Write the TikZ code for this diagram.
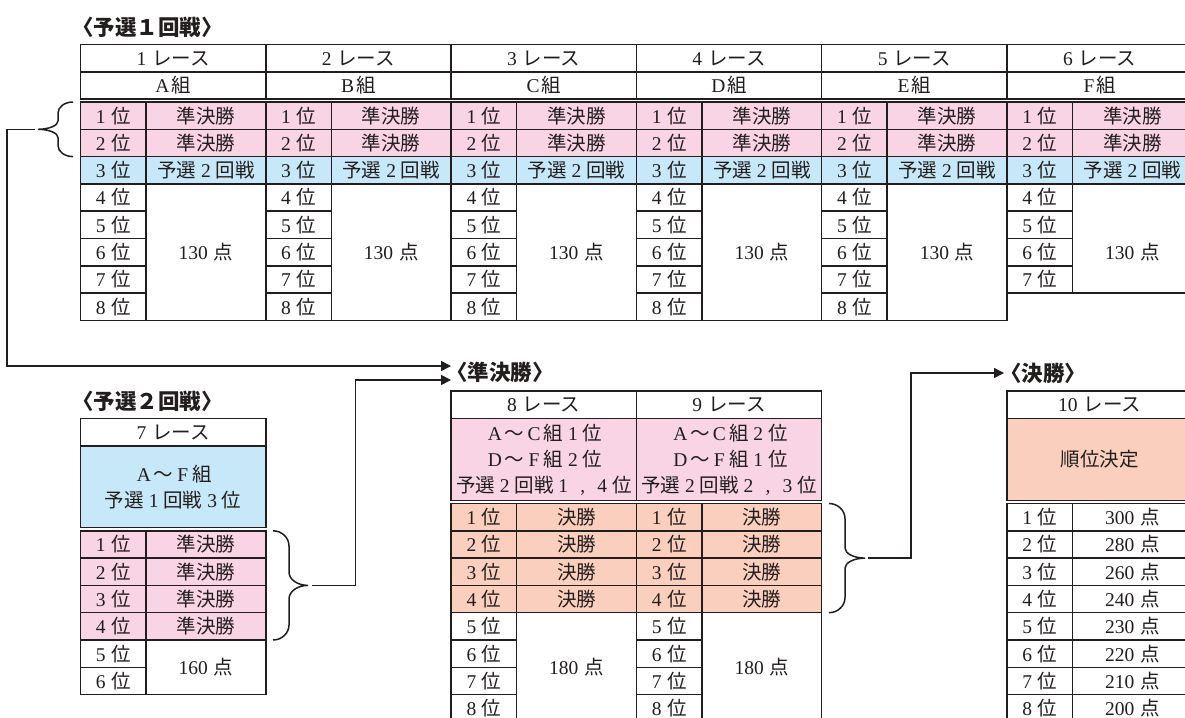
\documentclass[tikz,border=0pt]{standalone}
\usepackage{fontspec}
\setmainfont{Liberation Serif}
\newfontfamily\jp{Noto Sans CJK JP}
\usetikzlibrary{arrows.meta}
\definecolor{ink}{RGB}{35,30,30}
\definecolor{pinkc}{RGB}{249,212,228}
\definecolor{bluec}{RGB}{199,232,248}
\definecolor{salmc}{RGB}{250,207,189}
\newcommand\jtx[1]{{\jp #1}}
\newcommand\fwd[1]{\makebox[1em]{#1}}
\newcommand\rankt[1]{#1\hspace{0.28em}\jtx{位}}
\newcommand\ptst[1]{#1\hspace{0.3em}\jtx{点}}
\newcommand\racet[1]{#1\hspace{0.3em}\jtx{レース}}
\newcommand\mkcell[7]{\node[cell, fill=#6, minimum width=#4pt, minimum height=#5pt] (#1) at ({#2+#4/2},{#3+#5/2}) {#7};}
\tikzset{
  celltext/.style={inner sep=0pt, outer sep=0pt, text=ink, align=center,
    font=\fontsize{19.5}{26}\selectfont},
  cell/.style={celltext, draw=ink, line width=1.5pt},
  ttl/.style={inner sep=0pt, anchor=west, text=ink, font=\fontsize{21.5}{24}\selectfont\jp\bfseries},
  conn/.style={draw=ink, line width=1.5pt},
  arr/.style={conn, -{Triangle[length=10pt,width=10pt]}},
  brc/.style={draw=ink, line width=1.5pt},
}
\begin{document}
\begin{tikzpicture}[x=1pt,y=-1pt]
\useasboundingbox (0,0) rectangle (1185,717);
\fill[white] (0,0) rectangle (1185,717);
\begin{scope}
\clip (0,0) rectangle (1185,717);
% titles
\node[ttl] (T1) at (72,27.5) {〈予選１回戦〉};
\node[ttl] (T2) at (72,401.5) {〈予選２回戦〉};
\node[ttl] (T3) at (446,372) {〈準決勝〉};
\node[ttl] (T4) at (1000,373) {〈決勝〉};
% round 1
\foreach \k/\g in {0/A,1/B,2/C,3/D,4/E,5/F}{
  \pgfmathsetmacro\xl{80.5+185.3*\k}
  \pgfmathtruncatemacro\rn{\k+1}
  \pgfmathtruncatemacro\nr{\k<5 ? 8 : 7}
  \pgfmathsetmacro\ph{27.3*(\nr-3)}
  \mkcell{t\rn h}{\xl}{44.5}{185.3}{27.3}{white}{\racet{\rn}}
  \mkcell{t\rn g}{\xl}{71.8}{185.3}{27.3}{white}{\g\hspace{0.1em}\jtx{組}}
  \mkcell{t\rn a1}{\xl}{102}{65.5}{27.3}{pinkc}{\rankt{1}}
  \mkcell{t\rn b1}{\xl+65.5}{102}{119.8}{27.3}{pinkc}{\jtx{準決勝}}
  \mkcell{t\rn a2}{\xl}{129.3}{65.5}{27.3}{pinkc}{\rankt{2}}
  \mkcell{t\rn b2}{\xl+65.5}{129.3}{119.8}{27.3}{pinkc}{\jtx{準決勝}}
  \mkcell{t\rn a3}{\xl}{156.6}{65.5}{27.3}{bluec}{\rankt{3}}
  \mkcell{t\rn b3}{\xl+65.5}{156.6}{119.8}{27.3}{bluec}{\jtx{予選}\fwd{2}\jtx{回戦}}
  \foreach \i in {4,...,\nr}{
    \mkcell{t\rn a\i}{\xl}{102+27.3*(\i-1)}{65.5}{27.3}{white}{\rankt{\i}}
  }
  \mkcell{t\rn p}{\xl+65.5}{183.9}{119.8}{\ph}{white}{}
  \node[celltext] (t\rn pt) at (\xl+125.4,252.15) {\ptst{130}};
}
% round 2
\mkcell{q7h}{80.5}{418.5}{185.3}{27.3}{white}{\racet{7}}
\mkcell{q7d}{80.5}{445.8}{185.3}{81.9}{bluec}{\fwd{A}\jtx{〜}\fwd{F}\jtx{組}\\\jtx{予選}\fwd{1}\jtx{回戦}\fwd{3}\jtx{位}}
\foreach \i in {1,...,4}{
  \mkcell{q7a\i}{80.5}{530.8+27.3*(\i-1)}{65.5}{27.3}{pinkc}{\rankt{\i}}
  \mkcell{q7b\i}{146}{530.8+27.3*(\i-1)}{119.8}{27.3}{pinkc}{\jtx{準決勝}}
}
\mkcell{q7a5}{80.5}{640}{65.5}{27.3}{white}{\rankt{5}}
\mkcell{q7a6}{80.5}{667.3}{65.5}{27.3}{white}{\rankt{6}}
\mkcell{q7p}{146}{640}{119.8}{54.6}{white}{\ptst{160}}
% semifinal
\foreach \k/\rn in {0/8,1/9}{
  \pgfmathsetmacro\xl{451.1+185.3*\k}
  \mkcell{s\rn h}{\xl}{391.2}{185.3}{27.3}{white}{\racet{\rn}}
  \mkcell{s\rn d}{\xl}{418.5}{185.3}{81.9}{pinkc}{\ifnum\k=0
    \fwd{A}\jtx{〜}\fwd{C}\jtx{組}\fwd{1}\jtx{位}\\\fwd{D}\jtx{〜}\fwd{F}\jtx{組}\fwd{2}\jtx{位}\\\jtx{予選}\fwd{2}\jtx{回戦}\fwd{1}\fwd{,}\fwd{4}\jtx{位}\else
    \fwd{A}\jtx{〜}\fwd{C}\jtx{組}\fwd{2}\jtx{位}\\\fwd{D}\jtx{〜}\fwd{F}\jtx{組}\fwd{1}\jtx{位}\\\jtx{予選}\fwd{2}\jtx{回戦}\fwd{2}\fwd{,}\fwd{3}\jtx{位}\fi}
  \foreach \i in {1,...,4}{
    \mkcell{s\rn a\i}{\xl}{503.5+27.3*(\i-1)}{65.5}{27.3}{salmc}{\rankt{\i}}
    \mkcell{s\rn b\i}{\xl+65.5}{503.5+27.3*(\i-1)}{119.8}{27.3}{salmc}{\jtx{決勝}}
  }
  \foreach \i in {5,...,8}{
    \mkcell{s\rn a\i}{\xl}{503.5+27.3*(\i-1)}{65.5}{27.3}{white}{\rankt{\i}}
  }
  \mkcell{s\rn p}{\xl+65.5}{612.7}{119.8}{109.2}{white}{\ptst{180}}
}
% final
\mkcell{f10h}{1007}{391.2}{185.3}{27.3}{white}{\racet{10}}
\mkcell{f10d}{1007}{418.5}{185.3}{81.9}{salmc}{\jtx{順位決定}}
\foreach \i/\p in {1/300,2/280,3/260,4/240,5/230,6/220,7/210,8/200}{
  \mkcell{fa\i}{1007}{503.5+27.3*(\i-1)}{65.5}{27.3}{white}{\rankt{\i}}
  \mkcell{fb\i}{1072.5}{503.5+27.3*(\i-1)}{119.8}{27.3}{white}{\ptst{\p}}
}
% braces
\draw[brc] (73,102) .. controls (64.75,102) and (58,106.95) .. (58,113) -- (58,121)
  .. controls (58,125.6) and (49,129.3) .. (38,129.3)
  .. controls (49,129.3) and (58,133) .. (58,137.6) -- (58,145.6)
  .. controls (58,151.7) and (64.75,156.6) .. (73,156.6);
\draw[brc] (273,530.8) .. controls (281.8,530.8) and (289,537.6) .. (289,546) -- (289,572)
  .. controls (289,579.4) and (297.5,585.4) .. (308,585.4)
  .. controls (297.5,585.4) and (289,591.4) .. (289,599) -- (289,625)
  .. controls (289,633.2) and (281.8,640) .. (273,640);
\draw[brc] (829,503.5) .. controls (837.8,503.5) and (845,510.3) .. (845,518.7) -- (845,548)
  .. controls (845,553.6) and (854,558.1) .. (865,558.1)
  .. controls (854,558.1) and (845,562.6) .. (845,568.2) -- (845,597.5)
  .. controls (845,605.9) and (837.8,612.7) .. (829,612.7);
% connectors
\coordinate (b1) at (35,129.3);
\coordinate (k1) at (7,366);
\coordinate (e1) at (451,366);
\coordinate (b2) at (312,585.4);
\coordinate (k2) at (355.5,380);
\coordinate (e2) at (451,380);
\coordinate (b3) at (868,558.1);
\coordinate (k3) at (911,373);
\coordinate (e3) at (1004,373);
\draw[arr] (b1) -| (k1) -- (e1);
\draw[arr] (b2) -| (k2) -- (e2);
\draw[arr] (b3) -| (k3) -- (e3);
\end{scope}
\end{tikzpicture}
\end{document}
